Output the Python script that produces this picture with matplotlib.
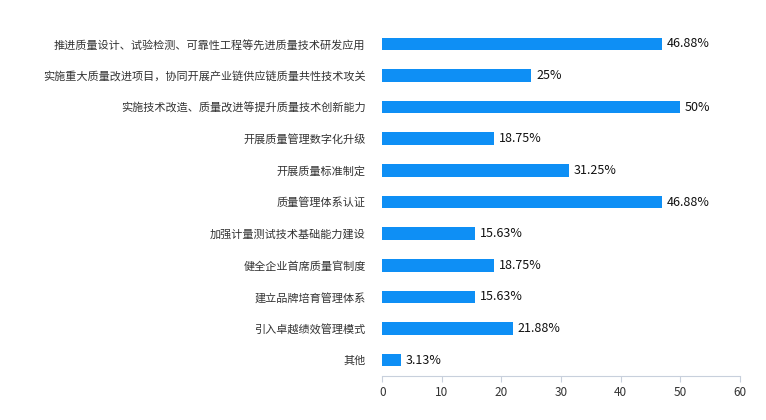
import matplotlib
matplotlib.use("Agg")
import matplotlib.pyplot as plt

plt.rcParams["font.family"] = ["Noto Sans CJK SC", "DejaVu Sans"]

categories = [
    "推进质量设计、试验检测、可靠性工程等先进质量技术研发应用",
    "实施重大质量改进项目，协同开展产业链供应链质量共性技术攻关",
    "实施技术改造、质量改进等提升质量技术创新能力",
    "开展质量管理数字化升级",
    "开展质量标准制定",
    "质量管理体系认证",
    "加强计量测试技术基础能力建设",
    "健全企业首席质量官制度",
    "建立品牌培育管理体系",
    "引入卓越绩效管理模式",
    "其他",
]
values = [46.88, 25, 50, 18.75, 31.25, 46.88, 15.63, 18.75, 15.63, 21.88, 3.13]
value_labels = ["46.88%", "25%", "50%", "18.75%", "31.25%", "46.88%",
                "15.63%", "18.75%", "15.63%", "21.88%", "3.13%"]

fig = plt.figure(figsize=(7.66, 4.2), dpi=100)
ax = fig.add_axes([0.499, 0.105, 0.467, 0.828])
pos = list(range(len(categories)))
ax.barh(pos, values, height=0.4, color="#0E8FF5")
for p, v, lab in zip(pos, values, value_labels):
    ax.text(v + 0.8, p, lab, va="center", ha="left", fontsize=9, color="#111111")

ax.set_xlim(0, 60)
ax.set_ylim(len(categories) - 0.5, -0.5)
ax.set_xticks(range(0, 61, 10))
ax.set_yticks(pos)
ax.set_yticklabels(categories, fontsize=8, color="#333333")
ax.tick_params(axis="x", labelsize=8.5, colors="#333333", length=4, color="#c8d0dc")
ax.tick_params(axis="y", length=0, pad=12)
for s in ["top", "right", "left"]:
    ax.spines[s].set_visible(False)
ax.spines["bottom"].set_color("#c8d0dc")

fig.savefig("out.png", dpi=100)
